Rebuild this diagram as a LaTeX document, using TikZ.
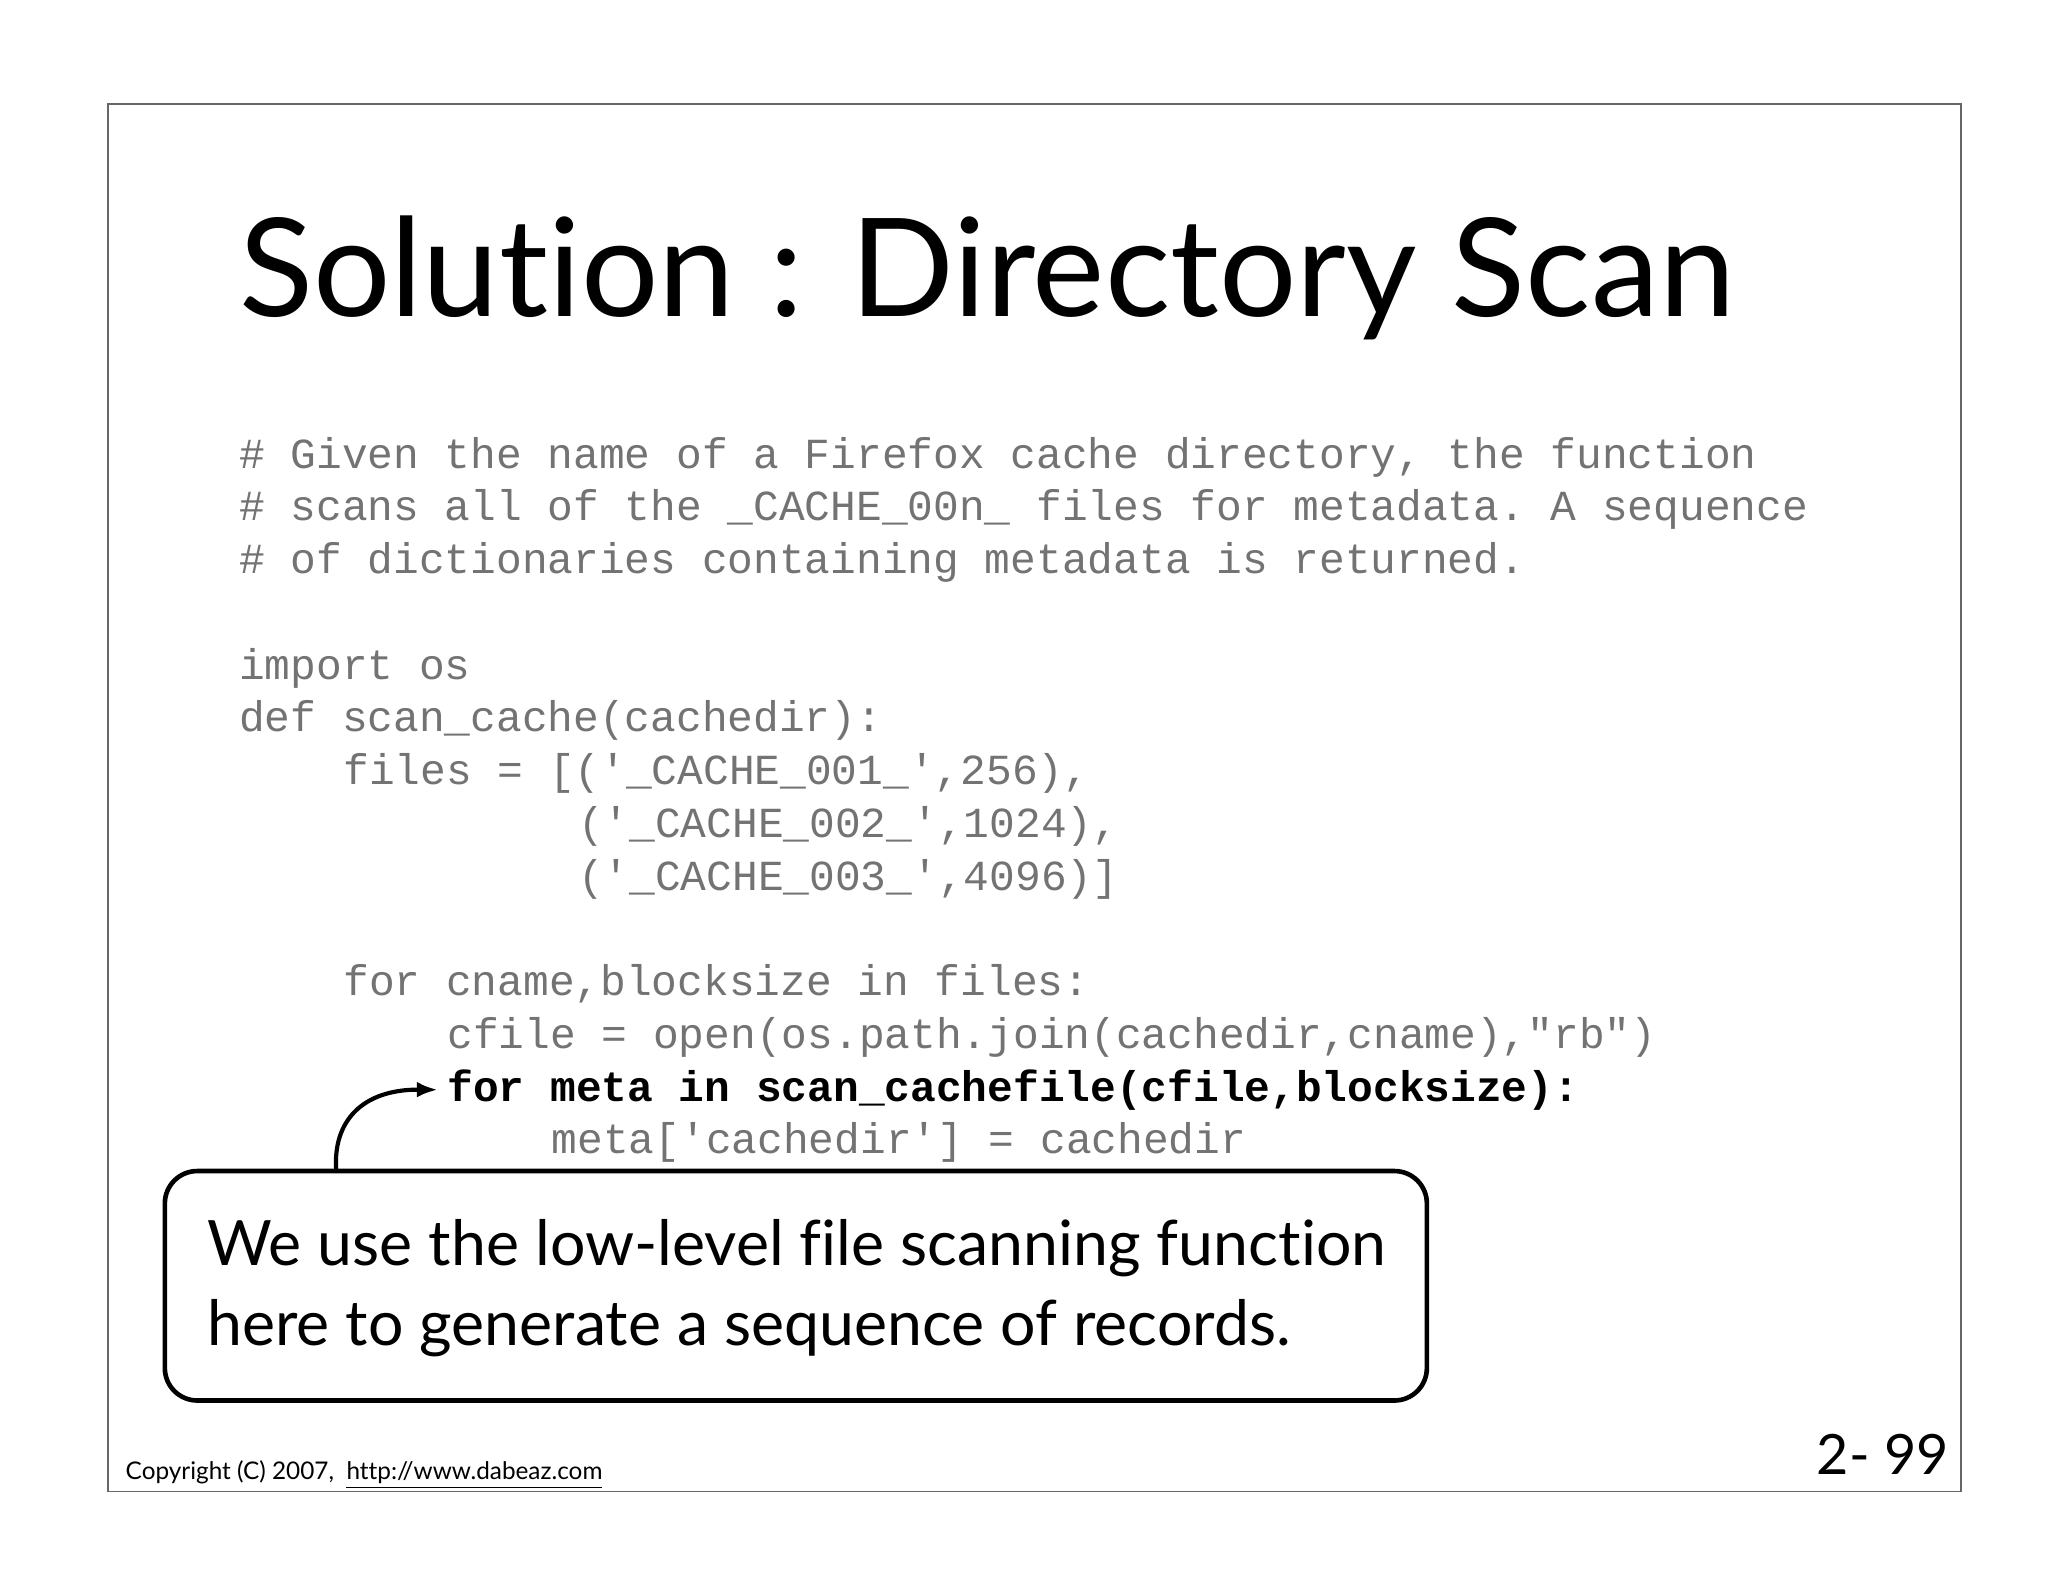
\documentclass[tikz,border=0pt]{standalone}
\usepackage{fontspec}
\usetikzlibrary{arrows.meta}
\setmainfont[Ligatures={NoCommon}]{Lato}
\setmonofont{Liberation Mono}
\begin{document}
\begin{tikzpicture}[x=0.02cm,y=-0.02cm,
  code/.style={anchor=base west,inner sep=0pt,font=\fontsize{18.5}{22}\selectfont\ttfamily,text=black!55},
  boldcode/.style={code,text=black,font=\fontsize{18.5}{22}\selectfont\ttfamily\bfseries}]
\useasboundingbox[fill=white] (0,0) rectangle (1553,1200);
\draw[black!60,line width=0.6pt] (82,79) rectangle (1487,1131);
\node[anchor=base west,inner sep=0pt,font=\fontsize{59}{66}\selectfont] (title) at (181,240) {Solution : Directory Scan};
\node[code] (l1) at (181,355) {\# Given the name of a Firefox cache directory, the function};
\node[code] (l2) at (181,395) {\# scans all of the \_CACHE\_00n\_ files for metadata. A sequence};
\node[code] (l3) at (181,435) {\# of dictionaries containing metadata is returned.};
\node[code] (l4) at (181,515) {import os};
\node[code] (l5) at (181,555) {def scan\_cache(cachedir):};
\node[code] (l6) at (260,595) {files = [('\_CACHE\_001\_',256),};
\node[code] (l7) at (438,635) {('\_CACHE\_002\_',1024),};
\node[code] (l8) at (438,675) {('\_CACHE\_003\_',4096)]};
\node[code] (l9) at (260,755) {for cname,blocksize in files:};
\node[code] (l10) at (339,795) {cfile = open(os.path.join(cachedir,cname),"rb")};
\node[boldcode] (l11) at (339,835) {for meta in scan\_cachefile(cfile,blocksize):};
\node[code] (l12) at (418,875) {meta['cachedir'] = cachedir};
\draw[line width=2pt,rounded corners=14pt,fill=white] (125,888) rectangle (1082,1062);
\coordinate (cs) at (255,888);
\node[anchor=base west,inner sep=0pt,font=\fontsize{27}{32}\selectfont] (c1) at (157,960) {We use the low-level file scanning function};
\node[anchor=base west,inner sep=0pt,font=\fontsize{27}{32}\selectfont] (c2) at (157,1020) {here to generate a sequence of records.};
\draw[line width=1.8pt,-{Latex[length=9pt]}] (cs) .. controls (252,850) and (275,826) .. ([xshift=-4pt]l11.west);
\node[anchor=base west,inner sep=0pt,font=\fontsize{10.5}{12}\selectfont] (copy) at (95,1122) {Copyright (C) 2007,\ \ \underline{http://www.dabeaz.com}};
\node[anchor=base east,inner sep=0pt,font=\fontsize{24}{28}\selectfont] (pg) at (1478,1118) {2- 99};
\end{tikzpicture}
\end{document}
